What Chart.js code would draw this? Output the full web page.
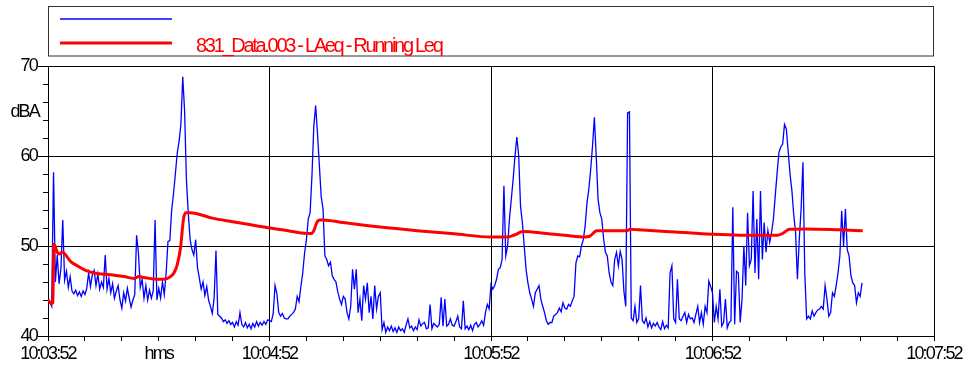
<!DOCTYPE html>
<html>
<head>
<meta charset="utf-8">
<script src="https://cdn.jsdelivr.net/npm/chart.js@4.4.0/dist/chart.umd.min.js"></script>
<style>
  html, body { margin: 0; padding: 0; background: #fff; }
</style>
</head>
<body>
<canvas id="mycanvas" width="964" height="367"></canvas>
<script>
// seconds after 10:03:52 for the fast trace, one sample every half second
var BLUE_STEP = 0.5;
var laeqLevels = [
  44.0, 43.8, 43.3, 58.2, 46.0, 49.0, 45.8, 47.5, 52.9, 46.2, 47.2, 45.4, 46.6, 45.0, 44.7, 45.1, 44.5, 44.9, 44.4, 45.0,
  44.6, 45.3, 47.0, 45.5, 46.8, 47.3, 45.6, 46.9, 45.2, 46.0, 45.4, 49.0, 45.2, 46.4, 44.8, 45.8, 44.2, 45.0, 45.6, 44.0,
  43.1, 44.8, 43.9, 45.3, 44.2, 43.2, 44.0, 44.6, 51.2, 49.2, 45.4, 46.3, 44.2, 45.6, 44.0, 45.1, 44.2, 45.0, 52.9, 44.0,
  45.3, 44.2, 46.0, 44.6, 47.0, 50.5, 50.6, 54.0, 55.8, 58.0, 60.3, 61.6, 63.5, 68.8, 65.0, 57.3, 53.6, 50.7, 49.6, 49.0,
  50.7, 47.6, 46.4, 45.2, 46.0, 44.5, 45.5, 44.0, 43.3, 42.5, 44.2, 49.5, 42.4, 42.2, 42.0, 41.6, 41.8, 41.4, 41.7, 41.3,
  41.5, 41.0, 41.6, 41.2, 42.6, 41.3, 41.0, 41.5, 40.9, 41.3, 40.8, 41.4, 41.0, 41.6, 41.1, 41.5, 41.2, 41.6, 41.3, 41.8,
  41.7, 41.6, 42.5, 45.6, 44.7, 42.6, 42.2, 42.5, 42.0, 41.9, 41.9, 42.2, 42.4, 42.6, 43.0, 44.4, 43.8, 45.5, 47.0, 49.2,
  50.7, 53.0, 53.7, 57.8, 63.3, 65.6, 62.5, 59.0, 55.5, 54.1, 48.9, 48.5, 47.8, 48.2, 46.7, 46.3, 46.0, 44.9, 44.1, 43.5,
  44.4, 44.1, 42.6, 41.9, 43.3, 47.4, 45.2, 47.4, 42.6, 44.1, 41.7, 45.6, 44.1, 45.9, 42.6, 44.4, 41.9, 45.6, 43.0, 44.4,
  44.8, 40.7, 41.5, 40.4, 41.0, 40.6, 41.1, 40.5, 40.9, 40.4, 41.0, 40.6, 40.8, 40.4, 41.2, 41.9, 40.9, 41.1, 40.6, 41.0,
  40.7, 41.8, 41.1, 41.4, 41.5, 40.8, 40.9, 43.5, 40.8, 41.4, 41.2, 41.0, 41.3, 44.3, 41.1, 44.1, 41.1, 41.3, 41.9, 41.2,
  41.1, 41.6, 42.2, 41.0, 40.8, 43.9, 40.8, 41.1, 40.7, 41.2, 40.6, 41.3, 41.5, 41.0, 41.3, 41.7, 41.2, 42.6, 43.5, 43.0,
  45.7, 45.2, 45.6, 46.3, 47.4, 47.6, 48.5, 56.7, 48.9, 50.0, 53.0, 55.2, 57.4, 60.0, 62.1, 60.0, 54.4, 52.6, 50.0, 47.4,
  45.9, 44.8, 44.1, 43.3, 44.8, 45.2, 45.6, 44.1, 43.3, 42.6, 41.7, 41.3, 41.5, 41.5, 42.2, 42.4, 42.6, 43.1, 42.7, 43.7,
  43.1, 43.0, 43.5, 43.3, 43.9, 44.4, 48.1, 48.9, 48.8, 50.0, 50.7, 52.2, 54.8, 56.3, 58.5, 61.1, 64.3, 60.0, 55.2, 53.7,
  53.0, 50.8, 49.3, 48.9, 47.0, 46.0, 45.6, 48.5, 49.3, 47.8, 49.4, 48.5, 45.0, 43.3, 64.8, 64.9, 42.0, 41.7, 43.3, 41.5,
  41.9, 45.6, 41.7, 41.4, 42.0, 41.0, 41.6, 40.9, 41.4, 41.1, 41.5, 41.0, 40.7, 41.6, 40.8, 41.2, 40.9, 47.0, 47.8, 41.9,
  41.5, 46.3, 41.9, 41.7, 42.2, 42.6, 41.5, 42.4, 41.9, 42.0, 41.5, 42.4, 43.3, 41.5, 42.6, 41.3, 43.3, 42.6, 46.1, 45.5,
  44.8, 41.5, 43.3, 41.9, 45.2, 41.1, 41.5, 44.1, 40.9, 41.5, 41.7, 54.3, 41.3, 47.2, 47.0, 41.5, 44.1, 50.0, 45.6, 53.7,
  47.8, 48.5, 56.1, 47.0, 53.0, 46.3, 56.1, 48.5, 52.6, 49.3, 51.7, 50.4, 51.5, 53.0, 55.6, 58.1, 60.4, 61.0, 61.3, 63.5,
  63.0, 60.5, 58.0, 56.2, 53.5, 51.5, 46.3, 50.7, 54.1, 59.3, 47.0, 41.9, 42.2, 41.9, 42.8, 42.2, 42.6, 42.9, 43.0, 43.3,
  43.0, 45.6, 44.1, 42.2, 42.6, 44.8, 44.4, 45.6, 47.0, 48.9, 53.9, 50.0, 54.1, 49.6, 48.9, 46.7, 45.9, 45.6, 43.7, 44.8,
  44.4, 45.9
];

// running Leq, read at the turning points
var runningTimes = [0, 1.0, 1.3, 1.6, 2.5, 3.0, 3.9, 6.1, 7.9, 10.2,
  12.5, 17.0, 20.6, 23.3, 24.6, 26.0, 29.6, 31.4, 33.2, 34.1,
  35.0, 35.9, 36.7, 37.3, 38.6, 44.5, 50, 60, 65, 70,
  71.4, 72.1, 72.8, 73.6, 74.6, 80, 90, 100, 110, 120,
  124.5, 125.5, 126.8, 128.6, 135, 140, 145.5, 146.8, 148.7, 150,
  156.8, 157.7, 160, 170, 179.8, 187.3, 197.6, 199.0, 200.8, 205.3,
  214.3, 220.7];
var runningLeq = [44.0, 43.6, 43.7, 50.2, 49.3, 49.1, 49.3, 48.3, 47.8, 47.3,
  47.0, 46.8, 46.6, 46.4, 46.6, 46.5, 46.3, 46.3, 46.6, 47.0,
  47.9, 49.8, 53.0, 53.7, 53.7, 53.1, 52.7, 52.0, 51.7, 51.4,
  51.4, 51.8, 52.6, 52.9, 52.9, 52.6, 52.1, 51.7, 51.35, 51.0,
  51.0, 51.1, 51.3, 51.6, 51.4, 51.2, 51.0, 51.1, 51.7, 51.7,
  51.7, 51.85, 51.8, 51.55, 51.3, 51.2, 51.2, 51.4, 51.85, 51.9,
  51.8, 51.7];

var tickSeconds = [0, 30, 60, 120, 180, 240];
var tickLabels = ['10:03:52', 'hms', '10:04:52', '10:05:52', '10:06:52', '10:07:52'];
var yUnit = 'dBA';
var seriesNames = ['', '831_Data.003 - LAeq - Running Leq'];

var bluePoints = laeqLevels.map(function(v, i) { return { x: i * BLUE_STEP, y: v }; });
var redPoints = runningTimes.map(function(t, i) { return { x: t, y: runningLeq[i] }; });

Chart.defaults.font.family = '"Liberation Sans", Arial, sans-serif';
Chart.defaults.font.size = 18;
Chart.defaults.color = '#000';

function isMajorY(v) { return Math.round(v) % 10 === 0; }
function isMajorX(v) { return Math.round(v) % 60 === 0; }

var frame = {
  id: 'frame',
  beforeDraw: function(chart) {
    chart.ctx.letterSpacing = '-1.8px';
  },
  afterDraw: function(chart) {
    var ctx = chart.ctx, a = chart.chartArea, ys = chart.scales.y;
    ctx.save();
    // short ticks for the 2 dB steps
    ctx.strokeStyle = '#000';
    ctx.lineWidth = 1;
    ctx.beginPath();
    ys.ticks.forEach(function(t) {
      if (!isMajorY(t.value)) {
        var py = Math.round(ys.getPixelForValue(t.value)) + 0.5;
        ctx.moveTo(a.left - 5, py);
        ctx.lineTo(a.left, py);
      }
    });
    ctx.stroke();

    ctx.fillStyle = '#000';
    ctx.font = '18px "Liberation Sans", Arial, sans-serif';
    ctx.letterSpacing = '-1.8px';
    ctx.textAlign = 'right';
    ctx.textBaseline = 'middle';
    ctx.fillText(yUnit, a.left - 9, ys.getPixelForValue(64.9));

    // legend box
    ctx.strokeStyle = '#333';
    ctx.lineWidth = 1;
    ctx.strokeRect(a.left + 0.5, 6.5, a.right - a.left - 1, 49.5);
    chart.data.datasets.forEach(function(ds, i) {
      var ly = 19 + i * 24;
      ctx.strokeStyle = ds.borderColor;
      ctx.lineWidth = ds.borderWidth;
      ctx.beginPath();
      ctx.moveTo(a.left + 12, ly);
      ctx.lineTo(a.left + 124, ly);
      ctx.stroke();
      if (ds.label) {
        ctx.fillStyle = ds.borderColor;
        ctx.font = '20px "Liberation Sans", Arial, sans-serif';
        ctx.letterSpacing = '-2.3px';
        ctx.textAlign = 'left';
        ctx.textBaseline = 'alphabetic';
        ctx.fillText(ds.label, a.left + 148, ly + 9);
      }
    });
    ctx.restore();
  }
};

var ctx = document.getElementById('mycanvas');
var chart = new Chart(ctx, {
  type: 'line',
  data: {
    datasets: [
      {
        label: seriesNames[0],
        data: bluePoints,
        borderColor: '#0000ff',
        borderWidth: 1.3,
        pointRadius: 0,
        tension: 0,
        order: 2
      },
      {
        label: seriesNames[1],
        data: redPoints,
        borderColor: '#ff0000',
        borderWidth: 3,
        pointRadius: 0,
        cubicInterpolationMode: 'monotone',
        order: 1
      }
    ]
  },
  options: {
    responsive: false,
    animation: false,
    events: [],
    layout: { padding: { top: 66, right: 30, left: 0, bottom: 0 } },
    plugins: { legend: { display: false }, tooltip: { enabled: false } },
    scales: {
      x: {
        type: 'linear',
        min: 0,
        max: 240,
        afterBuildTicks: function(scale) {
          var t = [];
          for (var s = 0; s <= 240; s += 10) t.push({ value: s });
          scale.ticks = t;
        },
        afterFit: function(scale) {
          scale.height = 31;
          scale.paddingLeft = 0;
          scale.paddingRight = 0;
        },
        ticks: {
          autoSkip: false,
          maxRotation: 0,
          padding: 2,
          callback: function(value) {
            var k = tickSeconds.indexOf(Math.round(value));
            return k >= 0 ? tickLabels[k] : '';
          }
        },
        grid: {
          color: function(c) { return c.tick && isMajorX(c.tick.value) ? '#000' : 'rgba(0,0,0,0)'; },
          tickColor: '#000',
          tickLength: 5,
          lineWidth: 1
        },
        border: { color: '#000', width: 1 }
      },
      y: {
        min: 40,
        max: 70,
        afterBuildTicks: function(scale) {
          var t = [];
          for (var v = 40; v <= 70; v += 2) t.push({ value: v });
          scale.ticks = t;
        },
        afterFit: function(scale) {
          scale.width = 48;
          scale.paddingTop = 0;
          scale.paddingBottom = 0;
        },
        ticks: {
          autoSkip: false,
          padding: 1,
          callback: function(value) { return isMajorY(value) ? String(Math.round(value)) : ''; }
        },
        grid: {
          color: function(c) { return c.tick && isMajorY(c.tick.value) ? '#000' : 'rgba(0,0,0,0)'; },
          tickColor: function(c) { return c.tick && isMajorY(c.tick.value) ? '#000' : 'rgba(0,0,0,0)'; },
          tickLength: 10,
          lineWidth: 1
        },
        border: { color: '#000', width: 1 }
      }
    }
  },
  plugins: [frame]
});
</script>
</body>
</html>
